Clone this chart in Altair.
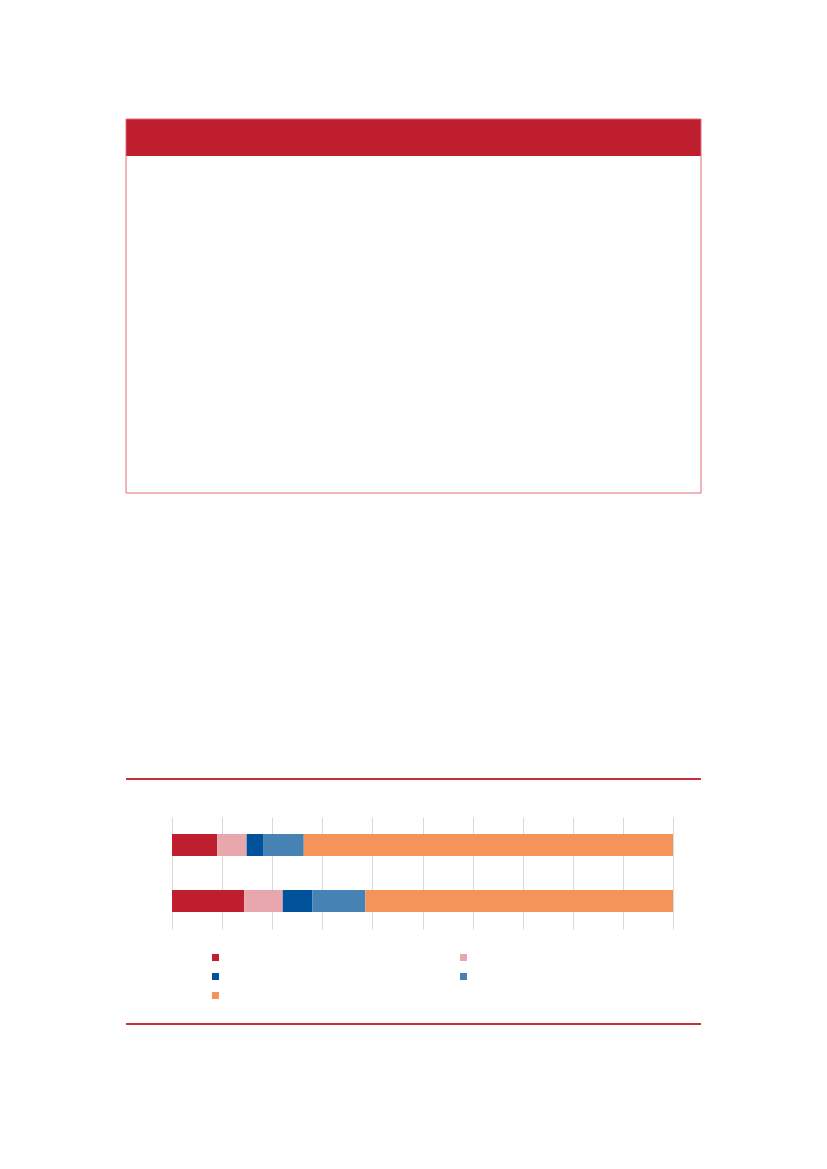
import altair as alt
import pandas as pd

# ---- data ----
bars = ["Bar 1", "Bar 2"]
series = ["S1", "S2", "S3", "S4", "S5"]
values_bar1 = [9.0, 5.9, 3.4, 8.0, 73.7]
values_bar2 = [14.4, 7.7, 5.9, 10.6, 61.4]
colors = ["#BE1E2D", "#E8A7AD", "#00529B", "#4682B4", "#F5945A"]
grid_ticks = [0, 10, 20, 30, 40, 50, 60, 70, 80, 90, 100]

rows = []
for b, vals in zip(bars, [values_bar1, values_bar2]):
    for i, (s, v) in enumerate(zip(series, vals)):
        rows.append({"bar": b, "series": s, "value": v, "idx": i})
df = pd.DataFrame(rows)
one = pd.DataFrame({"k": [0]})

bar_layer = alt.Chart(df).mark_bar(size=22).encode(
    x=alt.X("value:Q", stack="zero",
            scale=alt.Scale(domain=[0, 100], nice=False),
            axis=alt.Axis(values=grid_ticks, labels=False, ticks=False,
                          domain=False, title=None, grid=True,
                          gridColor="#D9D9D9", gridWidth=1)),
    y=alt.Y("bar:N", sort=bars, axis=None,
            scale=alt.Scale(paddingInner=0.607, paddingOuter=0.3035)),
    color=alt.Color("series:N", sort=series,
                    scale=alt.Scale(domain=series, range=colors),
                    legend=alt.Legend(orient="none", legendX=40, legendY=137,
                                      columns=2, direction="horizontal",
                                      title=None,
                                      symbolType="square", symbolSize=49,
                                      symbolStrokeWidth=0,
                                      labelExpr="''", labelFontSize=7,
                                      labelOffset=0, columnPadding=241,
                                      rowPadding=11, padding=0)),
    order=alt.Order("idx:Q", sort="ascending"),
)

header = alt.Chart(one).mark_rect(color="#BE1E2D").encode(
    x=alt.value(-46), x2=alt.value(529), y=alt.value(-698), y2=alt.value(-661))
box = alt.Chart(one).mark_rect(fill=None, fillOpacity=0, stroke="#E06A7B",
                               strokeWidth=1).encode(
    x=alt.value(-46), x2=alt.value(529), y=alt.value(-698), y2=alt.value(-324))
rule_top = alt.Chart(one).mark_rule(color="#C8303F", strokeWidth=2).encode(
    x=alt.value(-46), x2=alt.value(529), y=alt.value(-38))
rule_bot = alt.Chart(one).mark_rule(color="#C8303F", strokeWidth=2).encode(
    x=alt.value(-46), x2=alt.value(529), y=alt.value(207))

chart = alt.layer(header, box, rule_top, rule_bot, bar_layer).properties(
    width=501, height=112,
    padding={"left": 117, "top": 110, "right": 0, "bottom": 0},
).configure_view(stroke=None)

chart.save("out.html", embed_options={"renderer": "svg", "actions": False})
